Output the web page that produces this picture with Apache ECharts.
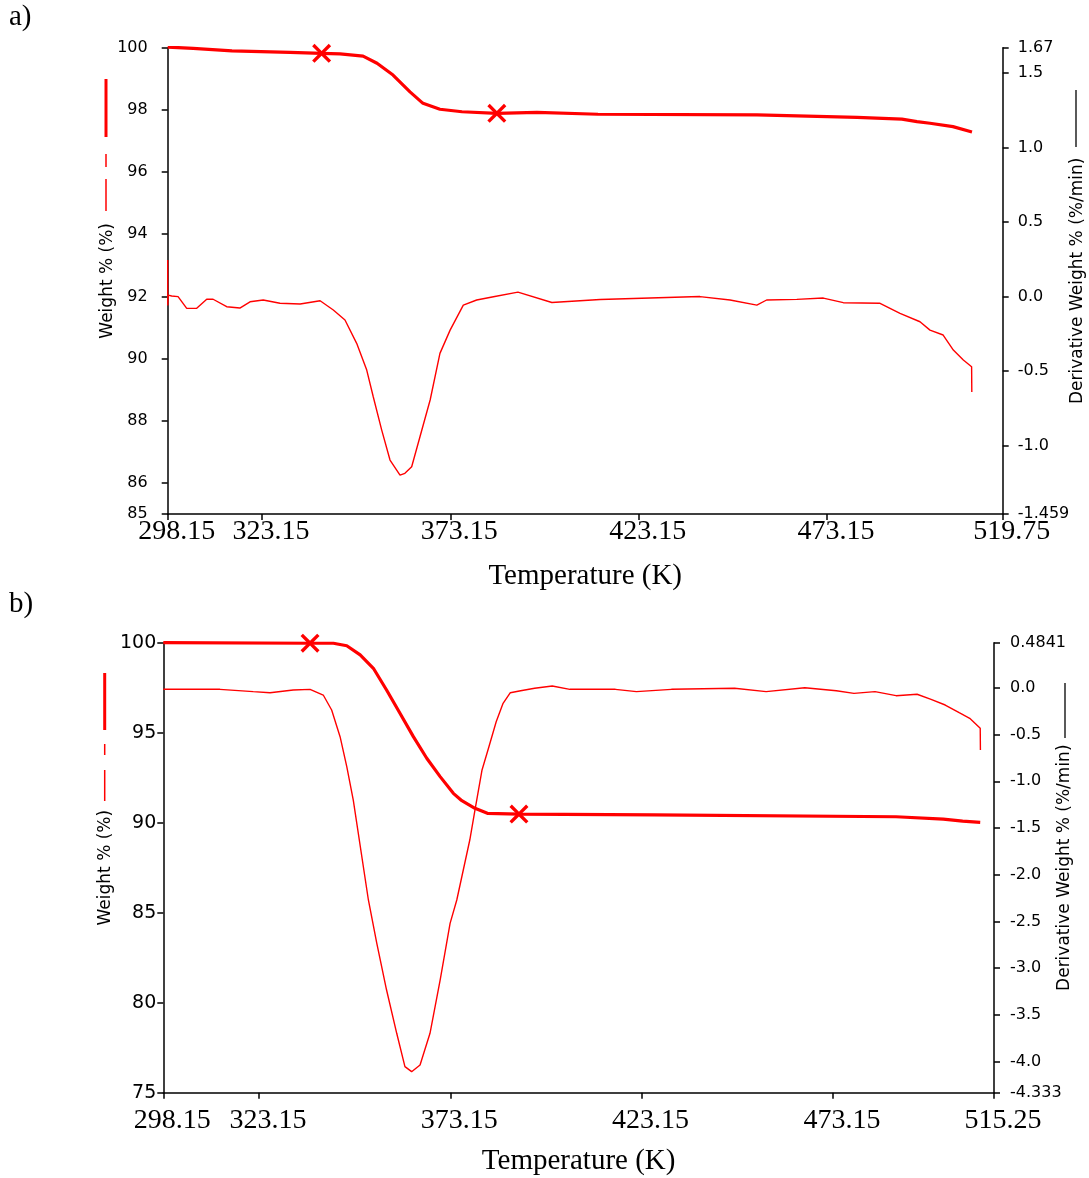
<!DOCTYPE html>
<html>
<head>
<meta charset="utf-8">
<script src="https://cdn.jsdelivr.net/npm/echarts@6/dist/echarts.min.js"></script>
<style>
  html, body { margin: 0; padding: 0; background: #ffffff; }
  #chart { width: 1089px; height: 1178px; }
</style>
</head>
<body>
<div id="chart"></div>
<script>
// ---------- Panel a) ----------
const aWeightT = [298.15, 304.9, 315.2, 330.6, 339.0, 343.9, 350.0, 353.7, 357.95, 362.45, 365.9, 370.4, 376.25, 385.5, 396.15, 412.35, 454.55, 481.1, 493.0, 497.0, 500.45, 506.55, 511.6];
const aWeightW = [100.02, 99.98, 99.9, 99.85, 99.82, 99.8, 99.73, 99.5, 99.12, 98.58, 98.21, 98.02, 97.94, 97.89, 97.92, 97.86, 97.84, 97.76, 97.7, 97.62, 97.57, 97.46, 97.29];
const aDerivT = [298.15, 298.17, 298.3, 299.2, 300.9, 303.2, 305.85, 308.5, 310.2, 313.8, 317.3, 320.0, 323.5, 327.95, 333.3, 338.6, 342.1, 345.2, 348.3, 350.97, 352.7, 354.95, 357.15, 359.8, 361.1, 362.9, 365.1, 367.8, 370.4, 373.1, 376.6, 380.15, 384.6, 391.1, 400.1, 412.9, 439.4, 447.4, 454.5, 457.1, 465.1, 472.15, 477.45, 487.2, 492.5, 497.8, 500.45, 503.95, 506.65, 509.3, 511.5, 511.55];
const aDerivD = [0.245, -0.06, 0.01, 0.004, 0.0, -0.079, -0.079, -0.018, -0.018, -0.068, -0.077, -0.035, -0.023, -0.045, -0.05, -0.028, -0.09, -0.157, -0.314, -0.493, -0.672, -0.896, -1.097, -1.198, -1.186, -1.142, -0.941, -0.694, -0.381, -0.225, -0.057, -0.023, -0.001, 0.03, -0.04, -0.02, 0.0, -0.023, -0.057, -0.023, -0.019, -0.01, -0.041, -0.045, -0.113, -0.169, -0.225, -0.258, -0.359, -0.426, -0.471, -0.64];
const aMarkT = [339.0, 385.5];
const aMarkW = [99.82, 97.89];
const aXTicks = [298.15, 323.15, 373.15, 423.15, 473.15, 519.75];
const aYLTicks = [85, 86, 88, 90, 92, 94, 96, 98, 100];
const aYRTicks = [-1.459, -1.0, -0.5, 0.0, 0.5, 1.0, 1.5, 1.67];
const aYRLabels = ['-1.459', '-1.0', '-0.5', '0.0', '0.5', '1.0', '1.5', '1.67'];

// ---------- Panel b) ----------
const bWeightT = [298.15, 336.5, 342.6, 346.1, 349.6, 353.05, 356.5, 360.0, 363.5, 367.0, 370.5, 373.95, 375.95, 379.6, 382.85, 391.1, 426.4, 489.65, 502.0, 507.05, 511.65];
const bWeightW = [100.0, 99.97, 99.97, 99.83, 99.32, 98.58, 97.37, 96.08, 94.78, 93.58, 92.56, 91.63, 91.26, 90.8, 90.52, 90.48, 90.43, 90.33, 90.2, 90.09, 90.02];
const bDerivT = [298.15, 312.95, 321.65, 326.05, 332.1, 336.5, 339.95, 342.15, 344.35, 346.1, 347.8, 351.75, 353.95, 356.5, 359.15, 361.3, 363.05, 365.25, 367.85, 370.5, 373.1, 374.85, 378.25, 379.6, 381.45, 383.25, 385.15, 386.95, 388.85, 391.55, 395.2, 399.8, 404.4, 416.3, 421.8, 430.95, 447.45, 455.7, 465.8, 474.05, 478.65, 484.15, 489.65, 495.15, 498.8, 502.5, 506.15, 508.9, 511.65, 511.7];
const bDerivD = [-0.015, -0.015, -0.04, -0.051, -0.022, -0.015, -0.076, -0.236, -0.522, -0.843, -1.2, -2.27, -2.734, -3.234, -3.697, -4.054, -4.108, -4.036, -3.697, -3.127, -2.52, -2.27, -1.628, -1.307, -0.878, -0.629, -0.362, -0.165, -0.051, -0.03, -0.004, 0.02, -0.015, -0.015, -0.04, -0.015, -0.004, -0.04, 0.002, -0.03, -0.058, -0.04, -0.083, -0.068, -0.122, -0.183, -0.265, -0.325, -0.432, -0.664];
const bMarkT = [336.5, 391.1];
const bMarkW = [99.97, 90.48];
const bXTicks = [298.15, 323.15, 373.15, 423.15, 473.15, 515.25];
const bYLTicks = [75, 80, 85, 90, 95, 100];
const bYRTicks = [-4.333, -4.0, -3.5, -3.0, -2.5, -2.0, -1.5, -1.0, -0.5, 0.0, 0.4841];
const bYRLabels = ['-4.333', '-4.0', '-3.5', '-3.0', '-2.5', '-2.0', '-1.5', '-1.0', '-0.5', '0.0', '0.4841'];

const xTitle = 'Temperature (K)';
const yLeftTitle = 'Weight % (%)';
const yRightTitle = 'Derivative Weight % (%/min)';

// ---------- helpers ----------
const RED = '#ff0000';
const zip = (a, b) => a.map((v, i) => [v, b[i]]);
const lookup = (vals, labels) => (v) => {
  for (let i = 0; i < vals.length; i++) if (Math.abs(vals[i] - v) < 1e-6) return labels[i];
  return '';
};
const X_PATH = 'path://M0,2.5 L2.5,0 L10,7.5 L17.5,0 L20,2.5 L12.5,10 L20,17.5 L17.5,20 L10,12.5 L2.5,20 L0,17.5 L7.5,10 Z';
const axisLineStyle = { show: true, onZero: false, lineStyle: { color: '#000', width: 1.5 } };
const tickStyle = (vals) => ({ show: true, customValues: vals, length: 6, inside: false, lineStyle: { color: '#000', width: 1.5 } });

function xAxisDef(grid, min, max, ticks, margin, nameGap) {
  return {
    gridIndex: grid, type: 'value', min: min, max: max,
    axisLine: axisLineStyle, splitLine: { show: false },
    axisTick: tickStyle(ticks),
    axisLabel: {
      customValues: ticks, margin: margin, color: '#000',
      fontFamily: 'Liberation Serif', fontSize: 28, padding: [0, 0, 0, 18],
      formatter: (v) => v.toFixed(2)
    },
    name: xTitle, nameLocation: 'middle', nameGap: nameGap, nameMoveOverlap: false,
    nameTextStyle: { fontFamily: 'Liberation Serif', fontSize: 29, color: '#000' }
  };
}
function yAxisDef(grid, pos, min, max, ticks, labels, fontSize, margin, name, nameGap) {
  return {
    gridIndex: grid, type: 'value', position: pos, min: min, max: max,
    axisLine: axisLineStyle, splitLine: { show: false },
    axisTick: tickStyle(ticks),
    axisLabel: {
      customValues: ticks, margin: margin, color: '#000',
      fontFamily: 'DejaVu Sans', fontSize: fontSize,
      formatter: labels ? lookup(ticks, labels) : (v) => String(Math.round(v))
    },
    name: name, nameLocation: 'middle', nameRotate: 90, nameGap: nameGap, nameMoveOverlap: false,
    nameTextStyle: { fontFamily: 'DejaVu Sans', fontSize: 17, color: '#000' }
  };
}

const option = {
  animation: false,
  backgroundColor: '#ffffff',
  title: [
    { text: 'a)', left: 9, top: 3, padding: 0, textStyle: { fontFamily: 'Liberation Serif', fontSize: 29, fontWeight: 'normal', color: '#000' } },
    { text: 'b)', left: 9, top: 590, padding: 0, textStyle: { fontFamily: 'Liberation Serif', fontSize: 29, fontWeight: 'normal', color: '#000' } }
  ],
  grid: [
    { left: 167.7, right: 86.3, top: 47.7, height: 466.3, outerBoundsMode: 'none', containLabel: false },
    { left: 163.3, right: 95, top: 642.7, height: 450, outerBoundsMode: 'none', containLabel: false }
  ],
  xAxis: [
    xAxisDef(0, 298.15, 519.75, aXTicks, 4, 48),
    xAxisDef(1, 298.15, 515.25, bXTicks, 14, 54)
  ],
  yAxis: [
    yAxisDef(0, 'left', 85, 100, aYLTicks, null, 16, 20, yLeftTitle, 52),
    yAxisDef(0, 'right', -1.459, 1.67, aYRTicks, aYRLabels, 16, 15, yRightTitle, 66),
    yAxisDef(1, 'left', 75, 100, bYLTicks, null, 19, 7, yLeftTitle, 49),
    yAxisDef(1, 'right', -4.333, 0.4841, bYRTicks, bYRLabels, 16, 16, yRightTitle, 62)
  ],
  series: [
    { type: 'line', xAxisIndex: 0, yAxisIndex: 1, data: zip(aDerivT, aDerivD), showSymbol: false, symbol: 'none', lineStyle: { color: RED, width: 1.4 }, z: 2 },
    { type: 'line', xAxisIndex: 0, yAxisIndex: 0, data: zip(aWeightT, aWeightW), showSymbol: false, symbol: 'none', lineStyle: { color: RED, width: 3.2 }, z: 3 },
    { type: 'scatter', xAxisIndex: 0, yAxisIndex: 0, data: zip(aMarkT, aMarkW), symbol: X_PATH, symbolSize: 19, itemStyle: { color: RED, opacity: 1 }, z: 4 },
    { type: 'line', xAxisIndex: 1, yAxisIndex: 3, data: zip(bDerivT, bDerivD), showSymbol: false, symbol: 'none', lineStyle: { color: RED, width: 1.4 }, z: 2 },
    { type: 'line', xAxisIndex: 1, yAxisIndex: 2, data: zip(bWeightT, bWeightW), showSymbol: false, symbol: 'none', lineStyle: { color: RED, width: 3.2 }, z: 3 },
    { type: 'scatter', xAxisIndex: 1, yAxisIndex: 2, data: zip(bMarkT, bMarkW), symbol: X_PATH, symbolSize: 19, itemStyle: { color: RED, opacity: 1 }, z: 4 }
  ],
  graphic: [
    // legend-style line samples beside the axis titles
    { type: 'line', shape: { x1: 106, y1: 79, x2: 106, y2: 137 }, style: { stroke: RED, lineWidth: 3 } },
    { type: 'line', shape: { x1: 106, y1: 154, x2: 106, y2: 167 }, style: { stroke: RED, lineWidth: 1.5 } },
    { type: 'line', shape: { x1: 106, y1: 179, x2: 106, y2: 211 }, style: { stroke: RED, lineWidth: 1.5 } },
    { type: 'line', shape: { x1: 1076, y1: 90, x2: 1076, y2: 147 }, style: { stroke: '#000', lineWidth: 1.3 } },
    { type: 'line', shape: { x1: 104.7, y1: 673, x2: 104.7, y2: 730 }, style: { stroke: RED, lineWidth: 3 } },
    { type: 'line', shape: { x1: 104.7, y1: 744, x2: 104.7, y2: 755 }, style: { stroke: RED, lineWidth: 1.5 } },
    { type: 'line', shape: { x1: 104.7, y1: 770, x2: 104.7, y2: 801 }, style: { stroke: RED, lineWidth: 1.5 } },
    { type: 'line', shape: { x1: 1065, y1: 683, x2: 1065, y2: 738 }, style: { stroke: '#000', lineWidth: 1.3 } }
  ]
};

const chart = echarts.init(document.getElementById('chart'), null, { renderer: 'canvas' });
chart.setOption(option);
</script>
</body>
</html>
